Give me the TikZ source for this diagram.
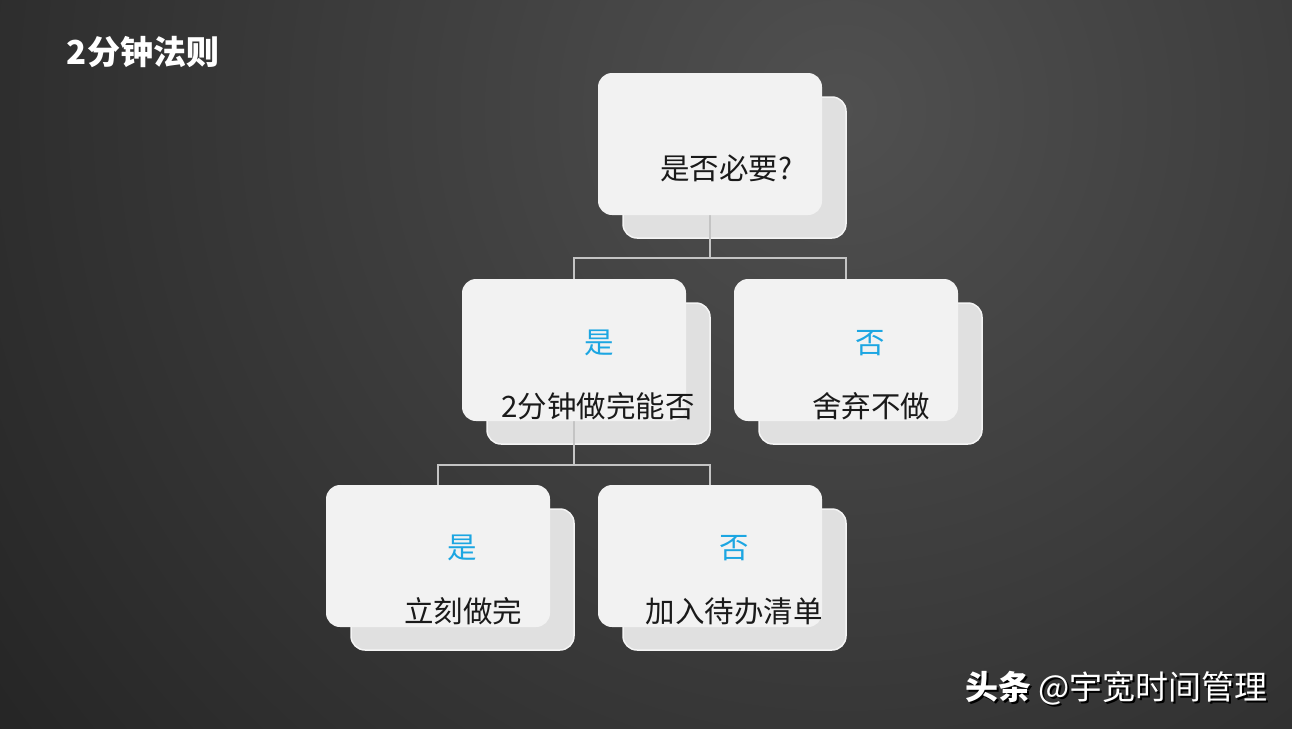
\documentclass[tikz,border=0pt]{standalone}
\usepackage{fontspec}
\setmainfont{Noto Sans CJK SC}
\begin{document}
\begin{tikzpicture}[x=1pt,y=-1pt,
  frontbox/.style={draw=none,fill=boxfront,rounded corners=14pt,minimum width=224pt,minimum height=142pt,inner sep=0pt},
  backbox/.style={draw=backedge,line width=1.5pt,fill=boxback,rounded corners=14pt,minimum width=223pt,minimum height=141pt,inner sep=0pt},
  conn/.style={draw=connc,line width=2pt},
  lbl/.style={font=\fontsize{29.5}{29.5}\selectfont,text=txt,inner sep=0pt},
  ans/.style={font=\fontsize{29.5}{29.5}\selectfont,text=blueans,inner sep=0pt}]
\definecolor{boxfront}{HTML}{F2F2F2}
\definecolor{boxback}{HTML}{E0E0E0}
\definecolor{backedge}{HTML}{F4F4F4}
\definecolor{connc}{HTML}{C4C4C4}
\definecolor{txt}{HTML}{1A1A1A}
\definecolor{blueans}{HTML}{1CA6E2}
\definecolor{bgin}{HTML}{505050}
\definecolor{bgout}{HTML}{1D1D1D}
\useasboundingbox (0,0) rectangle (1292,728);
\begin{scope}
\clip (0,0) rectangle (1292,728);
\fill[bgout] (0,0) rectangle (1292,728);
\shade[inner color=bgin,outer color=bgout] (840,110) circle (1250);
\end{scope}
% title
\node[font=\fontsize{33}{33}\selectfont\bfseries,text=white,inner sep=0pt] (title) at (143,52) {2分钟法则};
% back boxes
\node[backbox] (topB) at (734.5,167.5) {};
\node[backbox] (lB) at (598.5,373.5) {};
\node[backbox] (rB) at (870.5,373.5) {};
\node[backbox] (blB) at (462.5,579.5) {};
\node[backbox] (brB) at (734.5,579.5) {};
% connectors
\coordinate (j1) at (710,258);
\coordinate (j2) at (574,465);
\draw[conn] (710,215) -- (j1);
\draw[conn] (j1) -| (574,280);
\draw[conn] (j1) -| (846,280);
\draw[conn] (574,421) -- (j2);
\draw[conn] (j2) -| (438,486);
\draw[conn] (j2) -| (710,486);
% front boxes
\node[frontbox] (topF) at (710,144) {};
\node[frontbox] (lF) at (574,350) {};
\node[frontbox] (rF) at (846,350) {};
\node[frontbox] (blF) at (438,556) {};
\node[frontbox] (brF) at (710,556) {};
% texts
\node[lbl] (t0) at (726,168) {是否必要?};
\node[ans] (a1) at (599,343) {是};
\node[lbl] (t1) at (598,406) {2分钟做完能否};
\node[ans] (a2) at (870,343) {否};
\node[lbl] (t2) at (871,406) {舍弃不做};
\node[ans] (a3) at (462,548) {是};
\node[lbl] (t3) at (463,611) {立刻做完};
\node[ans] (a4) at (734,548) {否};
\node[lbl] (t4) at (734,611) {加入待办清单};
% watermark
\node[font=\fontsize{33}{33}\selectfont,text=black,inner sep=0pt,anchor=east] (wms) at (1270,690) {{\bfseries 头条} @宇宽时间管理};
\node[font=\fontsize{33}{33}\selectfont,text=white,inner sep=0pt,anchor=east] (wm) at (1268,688) {{\bfseries 头条} @宇宽时间管理};
\end{tikzpicture}
\end{document}
